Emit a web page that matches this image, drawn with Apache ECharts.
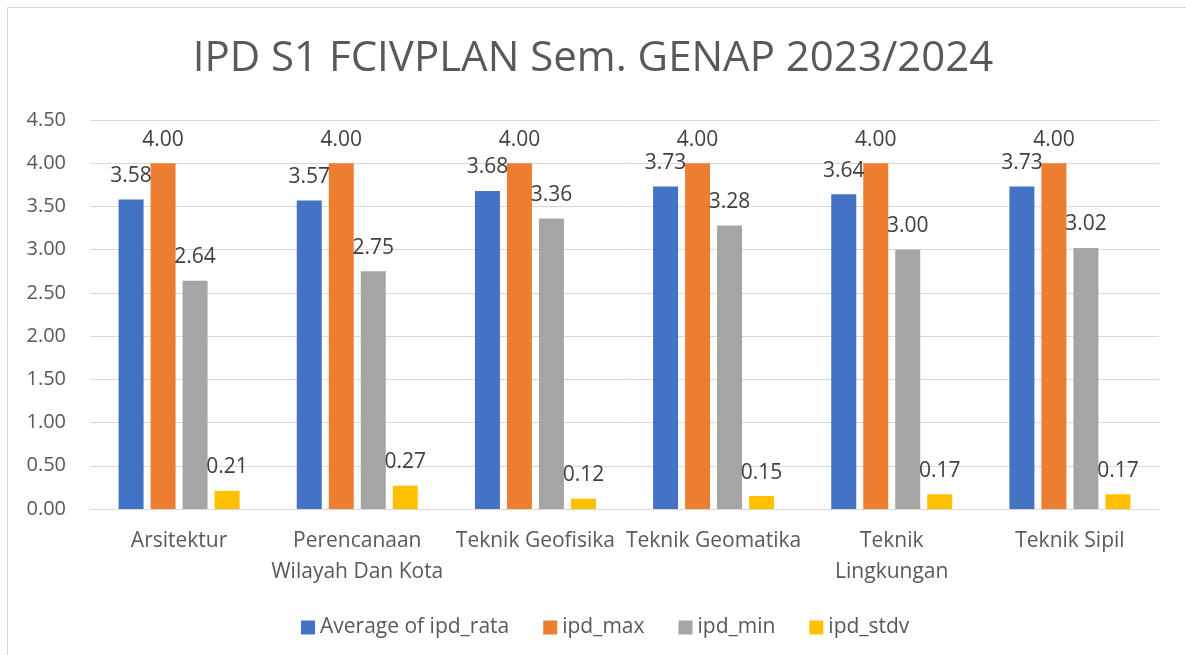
<!DOCTYPE html>
<html>
<head>
<meta charset="utf-8">
<script src="https://cdn.jsdelivr.net/npm/echarts@6/dist/echarts.min.js"></script>
<style>
html,body{margin:0;padding:0;background:#fff;}
#chart{width:1186px;height:655px;}
</style>
</head>
<body>
<div id="chart"></div>
<script>
const categories = ["Arsitektur", "Perencanaan\nWilayah Dan Kota", "Teknik Geofisika", "Teknik Geomatika", "Teknik\nLingkungan", "Teknik Sipil"];
const seriesNames = ["Average of ipd_rata", "ipd_max", "ipd_min", "ipd_stdv"];
const ipdRata = [3.58, 3.57, 3.68, 3.73, 3.64, 3.73];
const ipdMax = [4.00, 4.00, 4.00, 4.00, 4.00, 4.00];
const ipdMin = [2.64, 2.75, 3.36, 3.28, 3.00, 3.02];
const ipdStdv = [0.21, 0.27, 0.12, 0.15, 0.17, 0.17];
const yTicks = [0, 0.5, 1, 1.5, 2, 2.5, 3, 3.5, 4, 4.5];

const colors = ["#4472C4", "#ED7D31", "#A5A5A5", "#FFC000"];
const FONT = "'Open Sans', Lato, sans-serif";
const chart = echarts.init(document.getElementById('chart'), null, {renderer: 'canvas'});

function barSeries(name, data, color) {
  return {
    name: name,
    type: 'bar',
    data: data,
    barWidth: 25,
    barGap: '28%',
    itemStyle: {color: color},
    label: {
      show: true,
      position: 'top',
      distance: 13,
      color: '#404040',
      fontSize: 21,
      fontFamily: FONT,
      formatter: p => p.value.toFixed(2)
    }
  };
}

chart.setOption({
  animation: false,
  color: colors,
  graphic: [{
    type: 'rect',
    shape: {x: 7.5, y: 7.5, width: 1200, height: 700},
    style: {fill: 'none', stroke: '#d9d9d9', lineWidth: 1},
    silent: true
  }],
  title: {
    text: 'IPD S1 FCIVPLAN Sem. GENAP 2023/2024',
    left: 'center',
    top: 33,
    padding: [5, 0, 5, 12],
    textStyle: {color: '#595959', fontSize: 42, fontWeight: 'normal', fontFamily: FONT}
  },
  legend: {
    data: seriesNames,
    bottom: 12,
    left: 296,
    itemWidth: 14,
    itemHeight: 14,
    itemGap: 34,
    icon: 'rect',
    textStyle: {color: '#595959', fontSize: 21, fontFamily: FONT}
  },
  grid: {left: 90, right: 27, top: 120, bottom: 146},
  xAxis: {
    type: 'category',
    data: categories,
    axisLine: {lineStyle: {color: '#d9d9d9', width: 1}},
    axisTick: {show: false},
    axisLabel: {color: '#595959', fontSize: 21, fontFamily: FONT, margin: 17, lineHeight: 31, interval: 0}
  },
  yAxis: {
    type: 'value',
    min: yTicks[0],
    max: yTicks[yTicks.length - 1],
    interval: yTicks[1] - yTicks[0],
    axisLine: {show: false},
    axisTick: {show: false},
    splitLine: {lineStyle: {color: '#d9d9d9', width: 1}},
    axisLabel: {color: '#595959', fontSize: 20, fontFamily: FONT, margin: 24, formatter: v => v.toFixed(2)}
  },
  series: [
    barSeries(seriesNames[0], ipdRata, colors[0]),
    barSeries(seriesNames[1], ipdMax, colors[1]),
    barSeries(seriesNames[2], ipdMin, colors[2]),
    barSeries(seriesNames[3], ipdStdv, colors[3])
  ]
});
</script>
</body>
</html>
